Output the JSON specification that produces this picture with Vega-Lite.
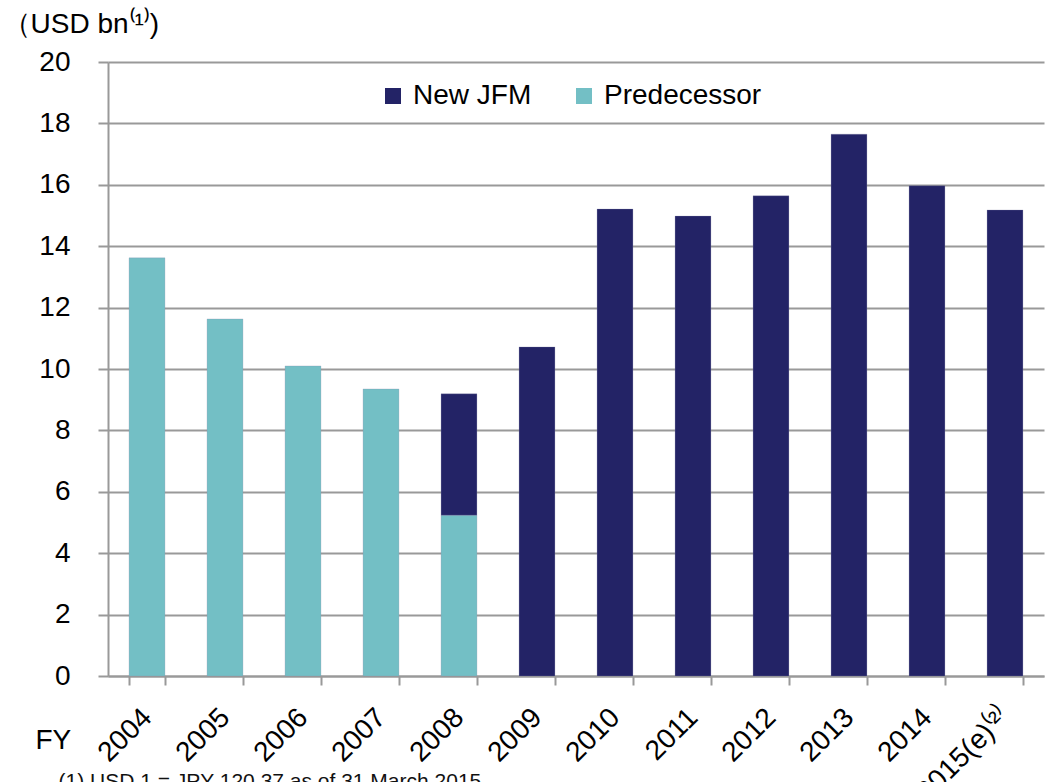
{
  "$schema": "https://vega.github.io/schema/vega-lite/v6.json",
  "width": 936,
  "height": 614,
  "autosize": {"type": "none"},
  "padding": {"left": 108, "top": 62, "right": 2, "bottom": 106},
  "background": "white",
  "config": {
    "font": "Liberation Sans",
    "view": {"stroke": null},
    "axis": {"labelFont": "Liberation Sans", "titleFont": "Liberation Sans"}
  },
  "data": {
    "values": [
      {"year": "2004", "series": "Predecessor", "value": 13.62},
      {"year": "2005", "series": "Predecessor", "value": 11.63},
      {"year": "2006", "series": "Predecessor", "value": 10.1},
      {"year": "2007", "series": "Predecessor", "value": 9.35},
      {"year": "2008", "series": "Predecessor", "value": 5.24},
      {"year": "2008", "series": "New JFM", "value": 3.95},
      {"year": "2009", "series": "New JFM", "value": 10.72},
      {"year": "2010", "series": "New JFM", "value": 15.21},
      {"year": "2011", "series": "New JFM", "value": 14.98},
      {"year": "2012", "series": "New JFM", "value": 15.64},
      {"year": "2013", "series": "New JFM", "value": 17.65},
      {"year": "2014", "series": "New JFM", "value": 15.97},
      {"year": "2015(e)⁽²⁾", "series": "New JFM", "value": 15.18}
    ]
  },
  "resolve": {"axis": {"x": "independent"}},
  "layer": [
    {
      "mark": {"type": "bar", "stroke": "#8888aa", "strokeWidth": 0.5, "strokeOpacity": 0.5},
      "encoding": {
        "x": {
          "field": "year",
          "type": "nominal",
          "sort": null,
          "scale": {"paddingInner": 0.54, "paddingOuter": 0.27},
          "axis": {
            "orient": "bottom",
            "title": "FY",
            "titleFontSize": 28,
            "titleFontWeight": "normal",
            "titleColor": "#000000",
            "titleAngle": 0,
            "titleAlign": "left",
            "titleBaseline": "alphabetic",
            "titleX": -73,
            "titleY": 72,
            "labelAngle": -45,
            "labelAlign": "right",
            "labelBaseline": "middle",
            "labelFontSize": 28,
            "labelColor": "#000000",
            "labelPadding": 28,
            "labelOverlap": false,
            "labelBound": false,
            "domainColor": "#999999",
            "domainWidth": 2,
            "tickColor": "#999999",
            "tickWidth": 2,
            "tickSize": 9,
            "tickBand": "extent",
            "grid": false
          }
        },
        "y": {
          "field": "value",
          "type": "quantitative",
          "stack": "zero",
          "scale": {"domain": [0, 20], "nice": false},
          "axis": {
            "title": "（USD bn⁽¹⁾)",
            "titleFontSize": 28,
            "titleFontWeight": "normal",
            "titleColor": "#000000",
            "titleAngle": 0,
            "titleAlign": "left",
            "titleBaseline": "alphabetic",
            "titleX": -106,
            "titleY": -30,
            "values": [0, 2, 4, 6, 8, 10, 12, 14, 16, 18, 20],
            "labelFontSize": 28,
            "labelColor": "#000000",
            "labelPadding": 28,
            "domainColor": "#999999",
            "domainWidth": 2,
            "tickColor": "#999999",
            "tickWidth": 2,
            "tickSize": 10,
            "gridColor": "#999999",
            "gridWidth": 2
          }
        },
        "color": {
          "field": "series",
          "type": "nominal",
          "scale": {"domain": ["New JFM", "Predecessor"], "range": ["#232366", "#73BFC5"]},
          "legend": {
            "title": null,
            "orient": "none",
            "legendX": 271,
            "legendY": 20,
            "direction": "horizontal",
            "symbolType": "square",
            "symbolSize": 256,
            "symbolStrokeWidth": 0,
            "labelFontSize": 28,
            "labelColor": "#000000",
            "labelOffset": 6,
            "columnPadding": 38
          }
        },
        "order": {"field": "series", "sort": "descending"}
      }
    },
    {
      "mark": {"type": "bar", "opacity": 0},
      "encoding": {
        "x": {
          "field": "year",
          "type": "nominal",
          "sort": null,
          "axis": {
            "orient": "bottom",
            "labels": false,
            "ticks": false,
            "domain": false,
            "grid": false,
            "title": "(1) USD 1 =  JPY 120.37 as of 31 March 2015",
            "titleFontSize": 21,
            "titleFontWeight": "normal",
            "titleColor": "#111111",
            "titleAngle": 0,
            "titleAlign": "left",
            "titleBaseline": "alphabetic",
            "titleX": -50,
            "titleY": 111
          }
        }
      }
    }
  ]
}
